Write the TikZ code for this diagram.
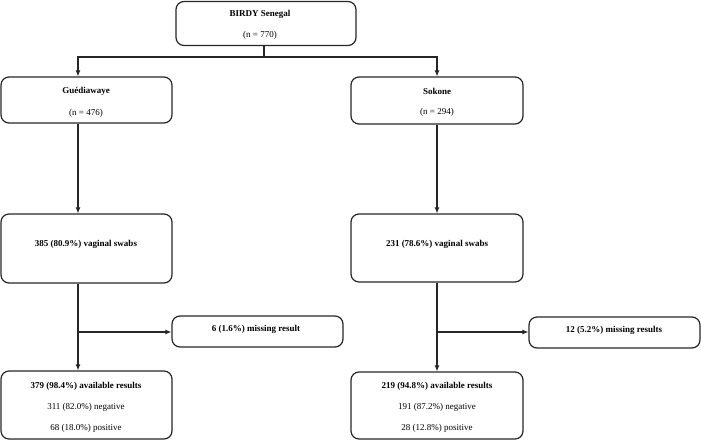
\documentclass[tikz,border=0pt]{standalone}
\usepackage{fontspec}
\setmainfont{Liberation Serif}
\usetikzlibrary{arrows.meta}
\begin{document}
\begin{tikzpicture}[x=1pt,y=-1pt,
  box/.style={draw=black!85,line width=1.2pt,rounded corners=8pt,inner sep=0pt},
  lbl/.style={font=\fontsize{9}{10}\selectfont\bfseries,inner sep=0pt,anchor=center},
  sub/.style={font=\fontsize{9}{10}\selectfont,inner sep=0pt,anchor=center},
  conn/.style={draw=black!85,line width=1.1pt},
  arr/.style={conn,-{Latex[length=6pt,width=5pt]}}]
\useasboundingbox (0,0) rectangle (701,440);
% boxes
\node[box,minimum width=180pt,minimum height=44pt] (top) at (266,23.5) {};
\node[box,minimum width=171pt,minimum height=46pt] (gue) at (86.5,100) {};
\node[box,minimum width=172pt,minimum height=47pt] (sok) at (437,100.5) {};
\node[box,minimum width=171pt,minimum height=69pt] (gsw) at (86.5,248.5) {};
\node[box,minimum width=172pt,minimum height=68pt] (ssw) at (437,248) {};
\node[box,minimum width=171pt,minimum height=31pt] (gmis) at (257.5,331.5) {};
\node[box,minimum width=171pt,minimum height=31pt] (smis) at (614.5,332.5) {};
\node[box,minimum width=171pt,minimum height=68pt] (gav) at (86.5,405) {};
\node[box,minimum width=172pt,minimum height=67pt] (sav) at (437,405.5) {};
% texts
\node[lbl] (t1) at (260,14) {BIRDY Senegal};
\node[sub] (t2) at (260,35) {(n = 770)};
\node[lbl] (t3) at (86,91) {Guédiawaye};
\node[sub] (t4) at (86,113) {(n = 476)};
\node[lbl] (t5) at (437,91) {Sokone};
\node[sub] (t6) at (437,112) {(n = 294)};
\node[lbl] (t7) at (86,244) {385 (80.9\%) vaginal swabs};
\node[lbl] (t8) at (437,244) {231 (78.6\%) vaginal swabs};
\node[lbl] (t9) at (256,329) {6 (1.6\%) missing result};
\node[lbl] (t10) at (614,330) {12 (5.2\%) missing results};
\node[lbl] (t11) at (86,386) {379 (98.4\%) available results};
\node[sub] (t12) at (86,407) {311 (82.0\%) negative};
\node[sub] (t13) at (86,428) {68 (18.0\%) positive};
\node[lbl] (t14) at (437,386) {219 (94.8\%) available results};
\node[sub] (t15) at (437,407) {191 (87.2\%) negative};
\node[sub] (t16) at (437,428) {28 (12.8\%) positive};
% connectors
\coordinate (split) at (264,57);
\coordinate (gsplit) at (78,332);
\coordinate (ssplit) at (437,332);
\draw[conn] (top.south -| split) -- (split);
\draw[arr] (split) -| (gue.north -| 78,0);
\draw[arr] (split) -| (sok.north);
\draw[arr] (gue.south -| 78,0) -- (gsw.north -| 78,0);
\draw[arr] (sok.south) -- (ssw.north);
\draw[arr] (gsw.south -| gsplit) -- (gav.north -| gsplit);
\draw[arr] (ssw.south -| ssplit) -- (sav.north -| ssplit);
\draw[arr] (gsplit) -- (gmis.west |- gsplit);
\draw[arr] (ssplit) -- (smis.west |- ssplit);
\end{tikzpicture}
\end{document}
